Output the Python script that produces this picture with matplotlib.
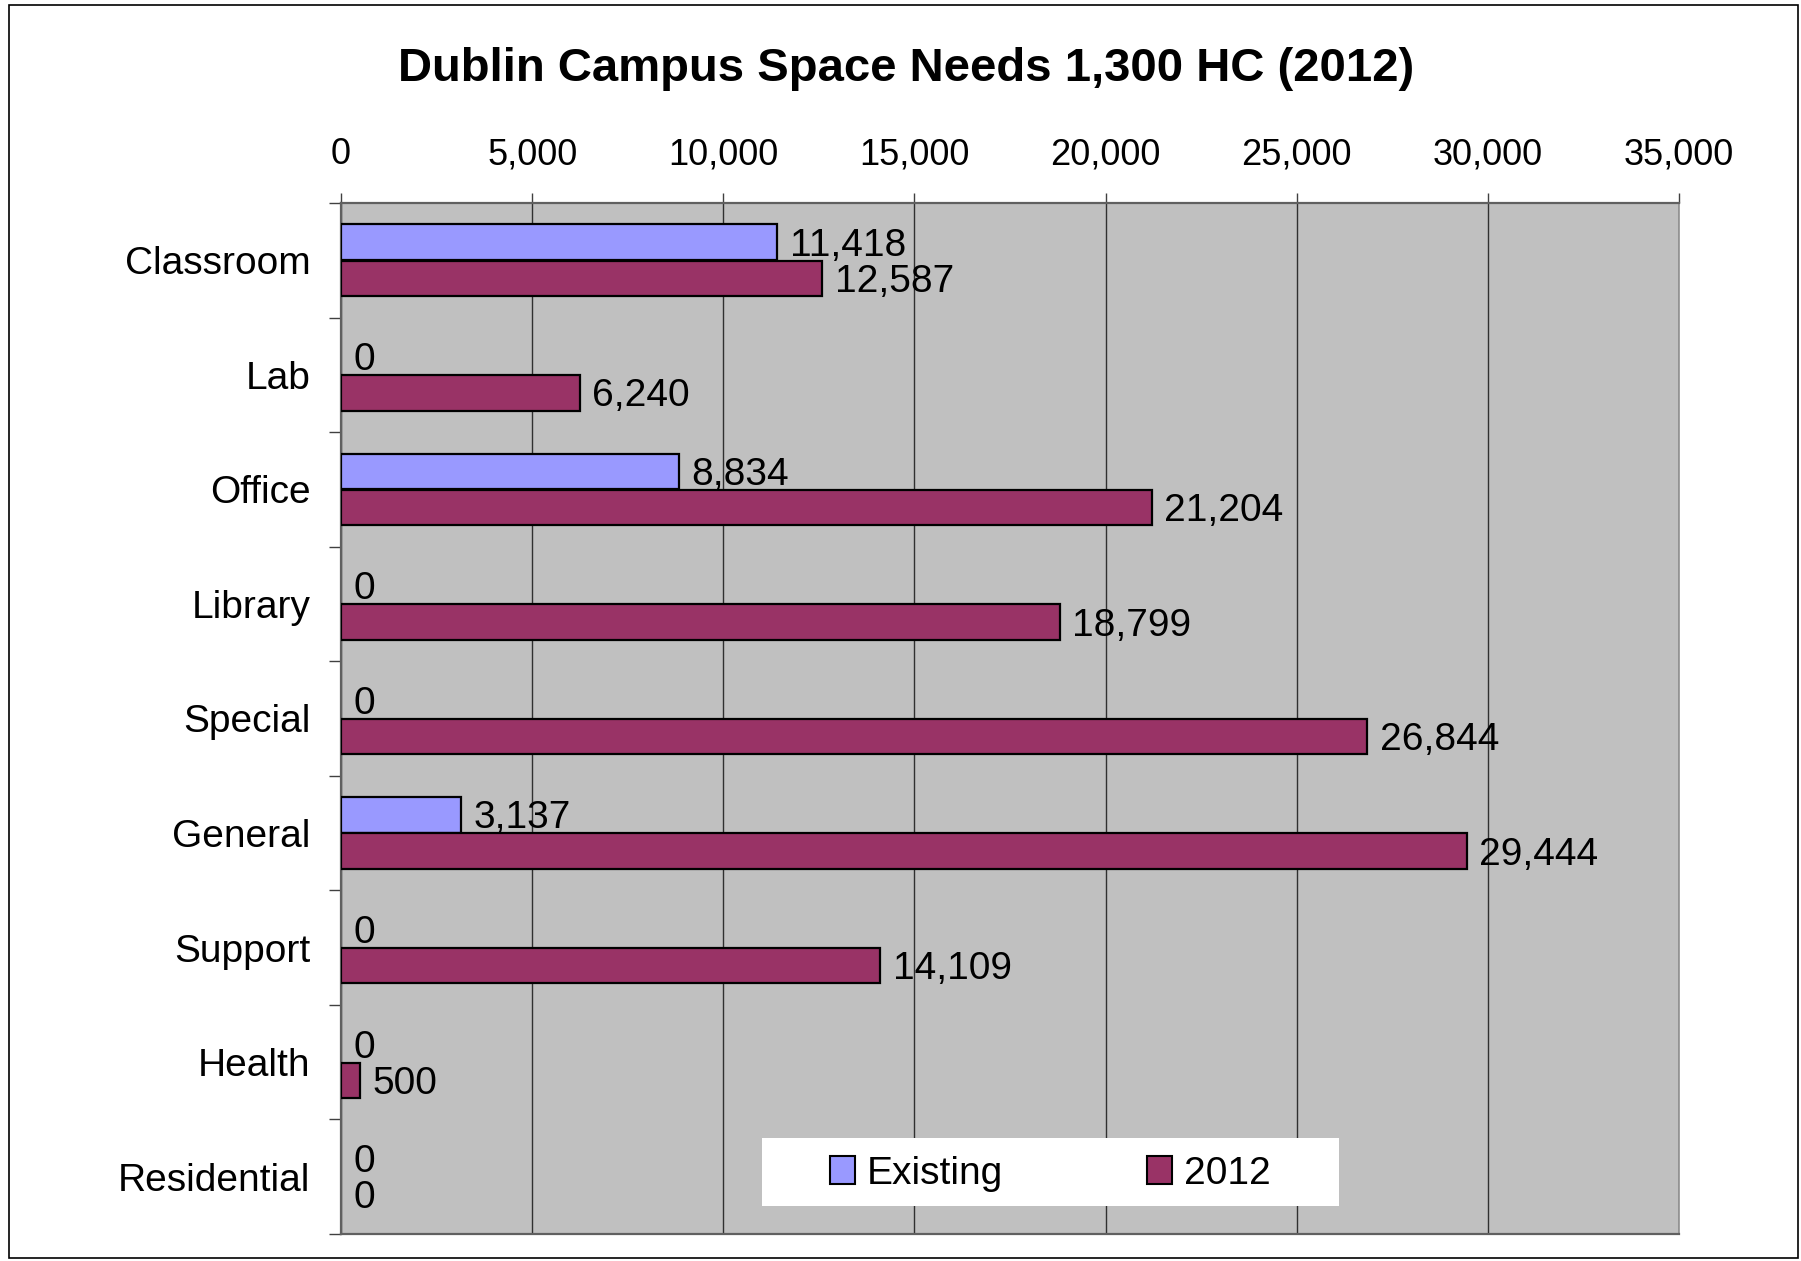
import matplotlib
matplotlib.use("Agg")
import matplotlib.pyplot as plt
from matplotlib.patches import Rectangle, Patch
from matplotlib.ticker import FuncFormatter, FixedLocator
import numpy as np

categories = ["Classroom", "Lab", "Office", "Library", "Special", "General",
              "Support", "Health", "Residential"]
existing = [11418, 0, 8834, 0, 0, 3137, 0, 0, 0]
y2012 = [12587, 6240, 21204, 18799, 26844, 29444, 14109, 500, 0]
series_names = ["Existing", "2012"]
title = "Dublin Campus Space Needs 1,300 HC (2012)"
xticks = [0, 5000, 10000, 15000, 20000, 25000, 30000, 35000]

plt.rcParams['font.family'] = ['Liberation Sans', 'DejaVu Sans']

W, H = 1801, 1261
fig = plt.figure(figsize=(W / 100, H / 100), dpi=100)
fig.patch.set_facecolor("white")

# plot area in pixels
L, R, T, B = 341, 1679, 203, 1234
ax = fig.add_axes([L / W, 1 - B / H, (R - L) / W, (B - T) / H])
ax.set_facecolor("#C0C0C0")

n = len(categories)
ypos = np.arange(n)
bh = 0.31
off = 0.158
c_exist = "#9999FF"
c_2012 = "#993366"
lw_e = [1.6 if v > 0 else 0 for v in existing]
lw_n = [1.6 if v > 0 else 0 for v in y2012]
ax.barh(ypos - off, existing, height=bh, color=c_exist, edgecolor="black", linewidth=lw_e, zorder=3)
ax.barh(ypos + off, y2012, height=bh, color=c_2012, edgecolor="black", linewidth=lw_n, zorder=3)

fs = 28
for i in range(n):
    ax.annotate(f"{existing[i]:,}", (existing[i], ypos[i] - off), xytext=(9, -2.5),
                textcoords="offset points", va="center", ha="left", fontsize=fs, zorder=4)
    ax.annotate(f"{y2012[i]:,}", (y2012[i], ypos[i] + off), xytext=(9, -2.5),
                textcoords="offset points", va="center", ha="left", fontsize=fs, zorder=4)

ax.set_xlim(0, 35000)
ax.set_ylim(n - 0.5, -0.5)
ax.xaxis.tick_top()
ax.set_xticks(xticks)
ax.xaxis.set_major_formatter(FuncFormatter(lambda v, p: f"{int(v):,}"))
ax.tick_params(axis="x", which="major", length=7, width=1, color="#404040",
               labelsize=26, pad=15, direction="out")
ax.grid(axis="x", color="#303030", linewidth=1.0, zorder=1)

ax.set_yticks(ypos)
ax.set_yticklabels(categories)
ax.tick_params(axis="y", which="major", length=0, labelsize=fs, pad=22)
ax.yaxis.set_minor_locator(FixedLocator(np.arange(-0.5, n, 1.0)))
ax.tick_params(axis="y", which="minor", length=9, width=1, color="#404040", direction="out")

for s in ["top", "left", "bottom"]:
    ax.spines[s].set_color("#606060")
    ax.spines[s].set_linewidth(1.6)
ax.spines["right"].set_color("#909090")
ax.spines["right"].set_linewidth(1.2)

# legend box (white, no border) and centred legend inside
bx0, bx1, by0, by1 = 762, 1339, 1138, 1206
fig.patches.append(Rectangle((bx0 / W, 1 - by1 / H), (bx1 - bx0) / W, (by1 - by0) / H,
                             transform=fig.transFigure, facecolor="white",
                             edgecolor="none", zorder=5))
handles = [Patch(facecolor=c_exist, edgecolor="black", linewidth=1.5),
           Patch(facecolor=c_2012, edgecolor="black", linewidth=1.5)]
leg = fig.legend(handles, series_names, ncol=2, loc="center",
                 bbox_to_anchor=((bx0 + bx1) / 2 / W, 1 - (by0 + by1 + 3) / 2 / H),
                 fontsize=fs, frameon=False, borderpad=0,
                 handlelength=0.65, handleheight=0.7, handletextpad=0.3,
                 columnspacing=3.7, borderaxespad=0)
leg.set_zorder(6)

fig.text(906 / W, 1 - 69 / H, title, ha="center", va="center",
         fontsize=34, fontweight="bold")

# figure border
fig.patches.append(Rectangle((9 / W, 3 / H), (W - 12) / W, (H - 8) / H,
                             transform=fig.transFigure, fill=False,
                             edgecolor="black", linewidth=1.2))

fig.savefig("out.png", dpi=100)
